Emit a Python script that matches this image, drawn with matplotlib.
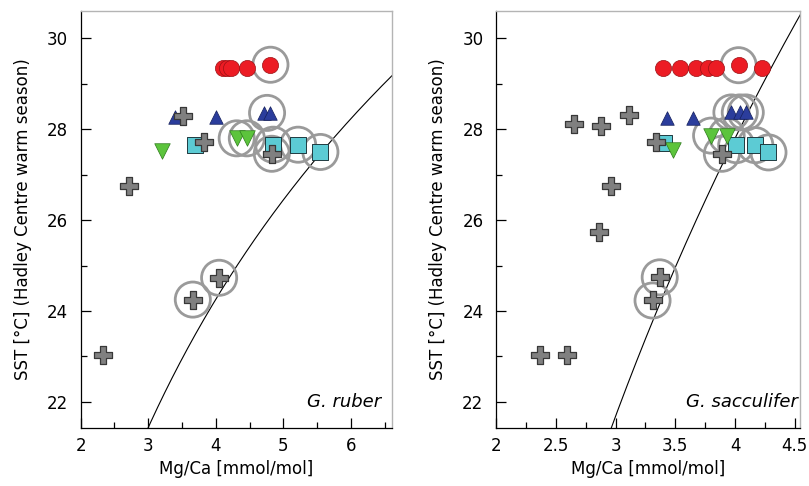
import numpy as np
import matplotlib
matplotlib.use("Agg")
import matplotlib.pyplot as plt
from matplotlib.ticker import MultipleLocator, FormatStrFormatter

plt.rcParams['font.family'] = ['DejaVu Sans']
plt.rcParams['font.size'] = 12

# ---------------- data: G. ruber (left) ----------------
ruber_red_x = [4.10, 4.16, 4.22, 4.46, 4.81]
ruber_red_y = [29.35, 29.35, 29.35, 29.35, 29.42]
ruber_blue_x = [3.40, 4.01, 4.72, 4.80]
ruber_blue_y = [28.26, 28.26, 28.36, 28.36]
ruber_green_x = [3.20, 4.31, 4.46]
ruber_green_y = [27.52, 27.80, 27.80]
ruber_cyan_x = [3.69, 4.85, 5.22, 5.55]
ruber_cyan_y = [27.66, 27.66, 27.66, 27.50]
ruber_cross_x = [3.52, 3.82, 4.83, 2.71, 4.05, 3.66, 2.33]
ruber_cross_y = [28.29, 27.73, 27.46, 26.75, 24.73, 24.25, 23.02]
ruber_ring_x = [4.81, 4.76, 4.31, 4.46, 4.83, 4.85, 5.22, 5.55, 4.05, 3.66]
ruber_ring_y = [29.42, 28.36, 27.80, 27.80, 27.46, 27.66, 27.66, 27.50, 24.73, 24.25]
ruber_calib = (0.337, 0.102)   # Mg/Ca = B * exp(A * T)

# ---------------- data: G. sacculifer (right) ----------------
sacc_red_x = [3.40, 3.54, 3.67, 3.77, 3.84, 4.03, 4.23]
sacc_red_y = [29.34, 29.34, 29.34, 29.34, 29.34, 29.41, 29.34]
sacc_blue_x = [3.43, 3.65, 3.97, 4.04, 4.09]
sacc_blue_y = [28.24, 28.24, 28.37, 28.37, 28.37]
sacc_green_x = [3.48, 3.80, 3.93]
sacc_green_y = [27.54, 27.86, 27.86]
sacc_cyan_x = [3.405, 4.01, 4.17, 4.28]
sacc_cyan_y = [27.69, 27.65, 27.65, 27.49]
sacc_cross_x = [2.65, 2.88, 3.11, 3.34, 3.89, 2.96, 2.865, 3.37, 3.31, 2.37, 2.59]
sacc_cross_y = [28.12, 28.08, 28.31, 27.73, 27.46, 26.75, 25.73, 24.74, 24.23, 23.02, 23.02]
sacc_ring_x = [4.03, 3.97, 4.04, 4.09, 3.80, 3.93, 3.89, 4.01, 4.17, 4.28, 3.37, 3.31]
sacc_ring_y = [29.41, 28.37, 28.37, 28.37, 27.86, 27.86, 27.46, 27.65, 27.65, 27.49, 24.74, 24.23]
sacc_calib = (1.083, 0.047)

ylabel = "SST [°C] (Hadley Centre warm season)"
xlabel = "Mg/Ca [mmol/mol]"

fig = plt.figure(figsize=(8.09, 4.86), dpi=100)
axL = fig.add_axes([0.0998, 0.120, 0.3852, 0.858])
axR = fig.add_axes([0.6131, 0.120, 0.3758, 0.858])

RED, RED_E = '#ec1c24', '#9a1014'
BLUE, BLUE_E = '#2b3d9c', '#141f5a'
GREEN, GREEN_E = '#5cc43c', '#2d7a1c'
CYAN, CYAN_E = '#5ccbd4', '#1f3a40'
GRAY, GRAY_E = '#808080', '#383838'
RING = '#9a9a9a'


def panel(ax, d, xlim, xmaj, xmin):
    (rx, ry, bx, by, gx, gy, cx, cy, kx, ky, ringx, ringy, calib) = d
    ax.scatter(ringx, ringy, s=640, facecolors='none', edgecolors=RING,
               linewidths=2.0, zorder=2)
    ax.scatter(cx, cy, s=125, marker='s', c=CYAN, edgecolors=CYAN_E,
               linewidths=0.7, zorder=3)
    ax.scatter(gx, gy, s=125, marker='v', c=GREEN, edgecolors=GREEN_E,
               linewidths=0.5, zorder=4)
    ax.scatter(bx, by, s=95, marker='^', c=BLUE, edgecolors=BLUE_E,
               linewidths=0.5, zorder=5)
    ax.scatter(rx, ry, s=135, marker='o', c=RED, edgecolors=RED_E,
               linewidths=0.5, zorder=6)
    ax.scatter(kx, ky, s=160, marker='P', c=GRAY, edgecolors=GRAY_E,
               linewidths=0.9, zorder=7)
    B, A = calib
    T = np.linspace(20, 32, 300)
    ax.plot(B * np.exp(A * T), T, color='black', lw=0.8, zorder=1)

    ax.set_xlim(*xlim)
    ax.set_ylim(21.43, 30.61)
    ax.xaxis.set_major_locator(MultipleLocator(xmaj))
    ax.xaxis.set_minor_locator(MultipleLocator(xmin))
    ax.xaxis.set_major_formatter(FormatStrFormatter('%g'))
    ax.yaxis.set_major_locator(MultipleLocator(2))
    ax.yaxis.set_minor_locator(MultipleLocator(1))
    ax.tick_params(which='both', direction='in', top=False, right=False,
                   labelsize=12, width=0.9, color='black')
    ax.tick_params(which='major', length=7)
    ax.tick_params(axis='y', which='major', pad=9)
    ax.tick_params(axis='x', which='major', pad=7)
    ax.tick_params(which='minor', length=4)
    for s in ['left', 'bottom']:
        ax.spines[s].set_color('black')
        ax.spines[s].set_linewidth(0.9)
    for s in ['top', 'right']:
        ax.spines[s].set_color('#b4b4b4')
        ax.spines[s].set_linewidth(1.0)
    ax.set_xlabel(xlabel, fontsize=12, labelpad=3)
    ax.set_ylabel(ylabel, fontsize=12, labelpad=11)
    return ax


panel(axL, (ruber_red_x, ruber_red_y, ruber_blue_x, ruber_blue_y,
            ruber_green_x, ruber_green_y, ruber_cyan_x, ruber_cyan_y,
            ruber_cross_x, ruber_cross_y, ruber_ring_x, ruber_ring_y,
            ruber_calib), (2, 6.616), 1, 0.5)
panel(axR, (sacc_red_x, sacc_red_y, sacc_blue_x, sacc_blue_y,
            sacc_green_x, sacc_green_y, sacc_cyan_x, sacc_cyan_y,
            sacc_cross_x, sacc_cross_y, sacc_ring_x, sacc_ring_y,
            sacc_calib), (2, 4.544), 0.5, 0.25)

axL.text(0.964, 0.05, "G. ruber", transform=axL.transAxes, fontsize=13,
         style='italic', ha='right', va='baseline')
axR.text(0.993, 0.05, "G. sacculifer", transform=axR.transAxes, fontsize=13,
         style='italic', ha='right', va='baseline')

fig.savefig("out.png", dpi=100)
